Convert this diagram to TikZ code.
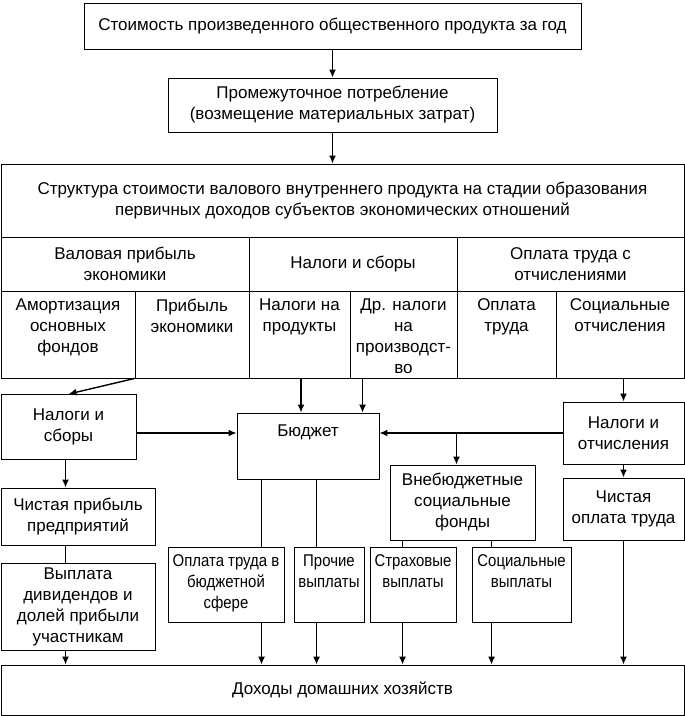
\documentclass[tikz,border=0pt]{standalone}
\usepackage{fontspec}
\setmainfont{Liberation Sans}
\usetikzlibrary{arrows.meta}
\begin{document}
\begin{tikzpicture}[x=1pt,y=-1pt,>={Latex[length=8pt,width=7pt]},
  box/.style={draw,line width=0.9pt,align=center,inner sep=2pt,font=\fontsize{17}{21}\selectfont},
  lbl/.style={align=center,anchor=north,inner sep=2pt,yshift=-6pt,font=\fontsize{17}{21}\selectfont},
  narrow/.style={label={[lbl,font=\fontsize{17}{21}\selectfont\addfontfeature{FakeStretch=0.88}]north:{#1}}},
  toptext/.style={label={[lbl]north:{#1}}},
  flow/.style={line width=1.4pt}]
\useasboundingbox (0,0) rectangle (685,716);

% top part
\node[box,minimum width=497pt,minimum height=46pt] at (332.5,26)(top) {Стоимость произведенного общественного продукта за год};
\node[box,minimum width=329pt,minimum height=54pt] at (332.5,105)(prom) {Промежуточное потребление\\(возмещение материальных затрат)};
\node[box,minimum width=683pt,minimum height=73pt] at (342.5,200.5)(str) {Структура стоимости валового внутреннего продукта на стадии образования\\первичных доходов субъектов экономических отношений};

% table rows
\node[box,minimum width=248pt,minimum height=54pt] at (125,264)(gross) {Валовая прибыль\\экономики};
\node[box,minimum width=208pt,minimum height=54pt] at (353,264)(taxes) {Налоги и сборы};
\node[box,minimum width=227pt,minimum height=54pt] at (570.5,264)(wages) {Оплата труда с\\отчислениями};

\node[box,minimum width=134pt,minimum height=87pt,toptext={Амортизация\\основных\\фондов}] at (68,334.5)(amort) {};
\node[box,minimum width=114pt,minimum height=87pt,toptext={Прибыль\\экономики}] at (192,334.5)(prof) {};
\node[box,minimum width=101pt,minimum height=87pt,toptext={Налоги на\\продукты}] at (299.5,334.5)(taxprod) {};
\node[box,minimum width=107pt,minimum height=87pt,toptext={Др. налоги\\на\\производст-\\во}] at (403.5,334.5)(taxoth) {};
\node[box,minimum width=99pt,minimum height=87pt,toptext={Оплата\\труда}] at (506.5,334.5)(pay) {};
\node[box,minimum width=128pt,minimum height=87pt,toptext={Социальные\\отчисления}] at (620,334.5)(soc) {};

% distribution
\node[box,minimum width=135pt,minimum height=65pt] at (68.5,427)(tax) {Налоги и\\сборы};
\node[box,minimum width=142pt,minimum height=66pt,label={[lbl,yshift=-4pt]north:Бюджет}] at (308,446)(bud) {};
\node[box,minimum width=121pt,minimum height=62pt] at (623.5,433)(taxr) {Налоги и\\отчисления};
\node[box,minimum width=145pt,minimum height=75pt] at (462.5,502.5)(fund) {Внебюджетные\\социальные\\фонды};
\node[box,minimum width=121pt,minimum height=62pt] at (623.5,509)(netwage) {Чистая\\оплата труда};
\node[box,minimum width=154pt,minimum height=57pt] at (78,516.5)(netprof) {Чистая прибыль\\предприятий};
\node[box,minimum width=154pt,minimum height=87pt] at (78,606.5)(divid) {Выплата\\дивидендов и\\долей прибыли\\участникам};

\node[box,minimum width=116pt,minimum height=75pt,narrow={Оплата труда в\\бюджетной\\сфере}] at (226,584.5)(wagebud) {};
\node[box,minimum width=70pt,minimum height=75pt,narrow={Прочие\\выплаты}] at (329,584.5)(other) {};
\node[box,minimum width=86pt,minimum height=75pt,narrow={Страховые\\выплаты}] at (413,584.5)(insur) {};
\node[box,minimum width=99pt,minimum height=75pt,narrow={Социальные\\выплаты}] at (521.5,584.5)(socpay) {};

\node[box,minimum width=683pt,minimum height=50pt] at (342.5,690)(income) {Доходы домашних хозяйств};

% arrows
\draw[flow,->] (top) -- (prom);
\draw[flow,->] (prom.south) -- (prom.south |- str.north);
\draw[flow,->] (prof.south west) -- (tax.north);
\draw[flow,->] ([xshift=1.5pt]taxprod.south) -- ([xshift=1.5pt]taxprod.south |- bud.north);
\draw[flow,->] ([xshift=13pt]taxoth.south west) -- ([xshift=13pt]taxoth.south west |- bud.north);
\draw[flow,->] (taxr.north |- soc.south) -- (taxr.north);
\draw[flow,->] (tax.east |- taxr.west) -- (bud.west |- taxr.west);
\draw[flow,->] (taxr.west) -- (taxr.west -| bud.east);
\draw[flow,->] ([xshift=-6pt]fund.north |- taxr.west) -- ([xshift=-6pt]fund.north);
\draw[flow,->] (taxr) -- (netwage);
\draw[flow,->] ([xshift=-3pt]tax.south) -- ([xshift=-3pt]tax.south |- netprof.north);
\draw[flow] ([xshift=-3pt]tax.south |- netprof.south) -- ([xshift=-3pt]tax.south |- divid.north);
\draw[flow,->] ([xshift=-3pt]tax.south |- divid.south) -- ([xshift=-3pt]tax.south |- income.north);

\draw[flow] ([xshift=25pt]bud.south west) -- ([xshift=25pt]bud.south west |- wagebud.north);
\draw[flow,->] ([xshift=25pt]bud.south west |- wagebud.south) -- ([xshift=25pt]bud.south west |- income.north);
\draw[flow] ([xshift=80pt]bud.south west) -- ([xshift=80pt]bud.south west |- other.north);
\draw[flow,->] ([xshift=80pt]bud.south west |- other.south) -- ([xshift=80pt]bud.south west |- income.north);
\draw[flow] ([xshift=13pt]fund.south west) -- ([xshift=13pt]fund.south west |- insur.north);
\draw[flow,->] ([xshift=13pt]fund.south west |- insur.south) -- ([xshift=13pt]fund.south west |- income.north);
\draw[flow] ([xshift=102pt]fund.south west) -- ([xshift=102pt]fund.south west |- socpay.north);
\draw[flow,->] ([xshift=102pt]fund.south west |- socpay.south) -- ([xshift=102pt]fund.south west |- income.north);
\draw[flow,->] (netwage.south) -- (netwage.south |- income.north);

\end{tikzpicture}
\end{document}
